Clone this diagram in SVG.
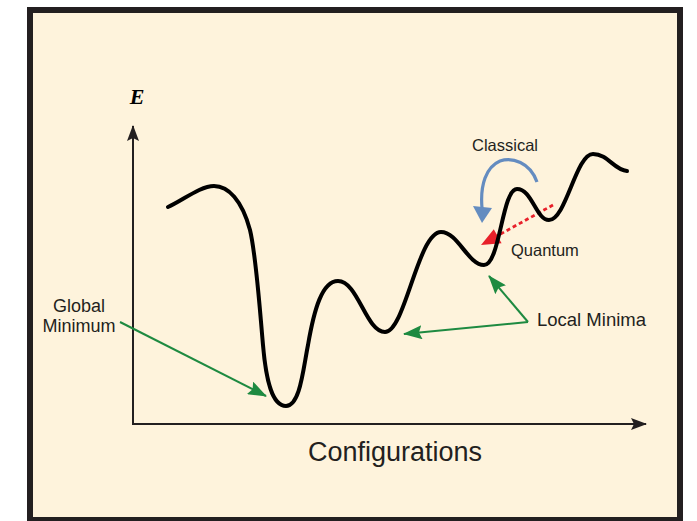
<svg xmlns="http://www.w3.org/2000/svg" width="697" height="521" viewBox="0 0 697 521">
<style>
.lbl{font-family:"Liberation Sans",Arial,sans-serif;fill:#231f20}
.axis{stroke:#231f20;stroke-width:2;fill:none}
.green{stroke:#1e8a41;stroke-width:2;fill:none}
.curve{stroke:#000;stroke-width:4;fill:none;stroke-linecap:round;stroke-linejoin:round}
</style>
<defs>
<marker id="axHead" viewBox="0 0 16 12" refX="15" refY="6" markerWidth="16" markerHeight="12" markerUnits="userSpaceOnUse" orient="auto">
<path d="M0,0 L16,6 L0,12 L3,6 Z" fill="#231f20"/>
</marker>
<marker id="grHead" viewBox="0 0 19 14" refX="18" refY="7" markerWidth="19" markerHeight="14" markerUnits="userSpaceOnUse" orient="auto">
<path d="M0,0 L19,7 L0,14 L3,7 Z" fill="#1e8a41"/>
</marker>
</defs>
<rect x="0" y="0" width="697" height="521" fill="#ffffff"/>
<rect x="30" y="10" width="650" height="510" fill="#fef3dc" stroke="#231f20" stroke-width="6"/>
<g id="axes">
<line class="axis" x1="133" y1="425" x2="133" y2="126" marker-end="url(#axHead)"/>
<line class="axis" x1="132" y1="424" x2="646" y2="424" marker-end="url(#axHead)"/>
</g>
<g id="label-E"><text x="137" y="104" text-anchor="middle" font-family="'Liberation Serif',serif" font-weight="bold" font-style="italic" font-size="22" fill="#000">E</text></g>
<g id="label-configurations"><text class="lbl" x="395" y="461" text-anchor="middle" font-size="27">Configurations</text></g>
<g id="label-global"><text class="lbl" x="79" y="312" text-anchor="middle" font-size="18">Global</text><text class="lbl" x="79" y="332" text-anchor="middle" font-size="18">Minimum</text></g>
<g id="label-local"><text class="lbl" x="537" y="326" font-size="18.5">Local Minima</text></g>
<g id="label-classical"><text class="lbl" x="472" y="151" font-size="16.5">Classical</text></g>
<g id="label-quantum"><text class="lbl" x="511" y="256" font-size="16.5">Quantum</text></g>
<g id="connectors">
<line class="green" x1="120" y1="322" x2="266" y2="396" marker-end="url(#grHead)"/>
<path d="M528,322 L404,334" class="green" marker-end="url(#grHead)"/>
<path d="M528,322 L489,276" class="green" marker-end="url(#grHead)"/>
<path d="M537,182 C530,162 512,157 500,161 C486,167 480,185 482,208" fill="none" stroke="#648cc0" stroke-width="3.2"/>
<polygon points="473,206 492,208 482,223" fill="#648cc0"/>
<line x1="553" y1="205" x2="497" y2="236" stroke="#e8202a" stroke-width="2.8" stroke-dasharray="4,3"/>
<polygon points="481,245 493.8,229.2 501.6,243.2" fill="#e8202a"/>
</g>
<g id="energy-curve">
<path class="curve" d="M168,207 C182,201 200,186 214,186 C228,186 242,200 250,230 C256,255 259,300 263,345 C266,380 272,406 286,406 C300,406 303,370 308,345 C314,310 322,281 338,281 C358,281 366,332 385,332 C405,332 418,232 441,232 C458,232 468,265 484,265 C500,265 502,189 517,189 C532,189 536,220 549,220 C566,220 576,154 593,154 C608,154 614,170 627,171"/>
</g>
</svg>
